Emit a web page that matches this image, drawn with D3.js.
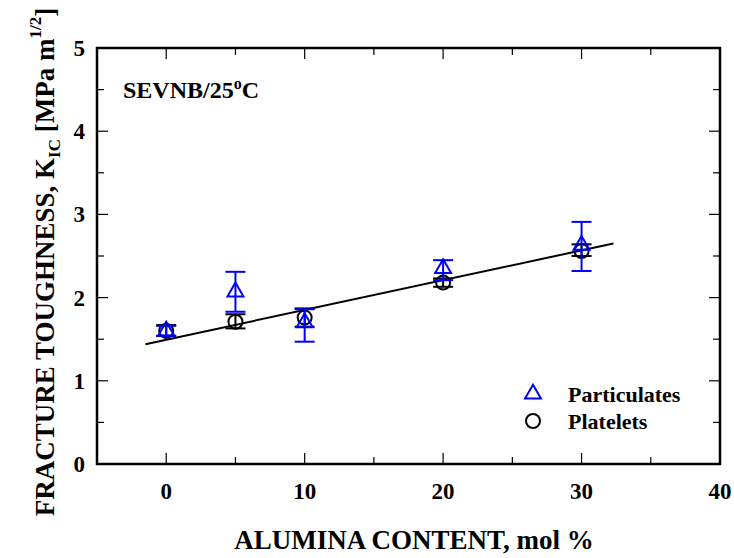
<!DOCTYPE html>
<html><head><meta charset="utf-8">
<script src="https://cdn.jsdelivr.net/npm/d3@7"></script>
<style>body{margin:0;background:#fff}svg{display:block}text{font-family:"Liberation Serif","Times New Roman",serif;font-weight:bold}</style>
</head><body><svg id="c" width="734" height="558"></svg>
<script>
const contents = [0, 5, 10, 20, 30];
const partVals = [1.60, 2.07, 1.70, 2.35, 2.63];
const partLo   = [1.54, 1.83, 1.47, 2.21, 2.32];
const partHi   = [1.66, 2.31, 1.86, 2.45, 2.91];
const platVals = [1.60, 1.71, 1.76, 2.18, 2.56];
const platLo   = [1.54, 1.63, 1.65, 2.13, 2.50];
const platHi   = [1.67, 1.80, 1.87, 2.23, 2.64];
const fitX = [-1.5, 32.3];
const fitY = [1.44, 2.65];
const xTicks = [0, 10, 20, 30, 40];
const yTicks = [0, 1, 2, 3, 4, 5];

const svg = d3.select("#c");
const L = 97, R = 720, T = 48, B = 464;
const x = d3.scaleLinear().domain([-5, 40]).range([L, R]);
const y = d3.scaleLinear().domain([0, 5]).range([B, T]);

// frame
svg.append("rect").attr("x", L).attr("y", T).attr("width", R - L).attr("height", B - T)
  .attr("fill", "none").attr("stroke", "#000").attr("stroke-width", 2.5);

// ticks (inward, all sides)
const g = svg.append("g").attr("stroke", "#000").attr("stroke-width", 1.2);
const xMaj = d3.range(0, 40, 10), xMin = d3.range(5, 40, 10);
const yMaj = d3.range(1, 5, 1), yMin = d3.range(0.5, 5, 1);
xMaj.forEach(v => { g.append("line").attr("x1", x(v)).attr("x2", x(v)).attr("y1", B).attr("y2", B - 11);
                    g.append("line").attr("x1", x(v)).attr("x2", x(v)).attr("y1", T).attr("y2", T + 11); });
xMin.forEach(v => { g.append("line").attr("x1", x(v)).attr("x2", x(v)).attr("y1", B).attr("y2", B - 7);
                    g.append("line").attr("x1", x(v)).attr("x2", x(v)).attr("y1", T).attr("y2", T + 7); });
yMaj.forEach(v => { g.append("line").attr("y1", y(v)).attr("y2", y(v)).attr("x1", L).attr("x2", L + 11);
                    g.append("line").attr("y1", y(v)).attr("y2", y(v)).attr("x1", R).attr("x2", R - 11); });
yMin.forEach(v => { g.append("line").attr("y1", y(v)).attr("y2", y(v)).attr("x1", L).attr("x2", L + 7);
                    g.append("line").attr("y1", y(v)).attr("y2", y(v)).attr("x1", R).attr("x2", R - 7); });

// tick labels
svg.append("g").selectAll("text").data(xTicks).join("text")
  .attr("x", d => x(d)).attr("y", 499).attr("text-anchor", "middle")
  .attr("font-size", 23).text(d => d);
svg.append("g").selectAll("text").data(yTicks).join("text")
  .attr("x", 85).attr("y", d => y(d) + 8).attr("text-anchor", "end")
  .attr("font-size", 23).text(d => d);

// axis titles
svg.append("text").attr("x", 414).attr("y", 549).attr("text-anchor", "middle")
  .attr("font-size", 27).text("ALUMINA CONTENT, mol %");
const yt = svg.append("text").attr("transform", "translate(54,262) rotate(-90)")
  .attr("text-anchor", "middle").attr("font-size", 27);
yt.append("tspan").text("FRACTURE TOUGHNESS, K");
yt.append("tspan").attr("font-size", 17).attr("dy", 6).text("IC");
yt.append("tspan").attr("dy", -6).text(" [MPa m");
yt.append("tspan").attr("font-size", 17).attr("dy", -13).text("1/2");
yt.append("tspan").attr("dy", 13).text("]");

// annotation
const an = svg.append("text").attr("x", 123).attr("y", 98).attr("font-size", 24);
an.append("tspan").text("SEVNB/25");
an.append("tspan").attr("font-size", 16).attr("dy", -9).text("o");
an.append("tspan").attr("dy", 9).text("C");

// fit line
const line = d3.line().x(d => x(d[0])).y(d => y(d[1]));
svg.append("path").attr("d", line(d3.zip(fitX, fitY))).attr("fill", "none")
  .attr("stroke", "#000").attr("stroke-width", 2);

function errBars(vals, lo, hi, color, cap) {
  const eg = svg.append("g").attr("stroke", color).attr("stroke-width", 2).attr("fill", "none");
  contents.forEach((c, i) => {
    eg.append("line").attr("x1", x(c)).attr("x2", x(c)).attr("y1", y(lo[i])).attr("y2", y(hi[i]));
    [lo[i], hi[i]].forEach(v => eg.append("line").attr("x1", x(c) - cap).attr("x2", x(c) + cap)
      .attr("y1", y(v)).attr("y2", y(v)));
  });
}
const tri = d3.symbol().type(d3.symbolTriangle).size(110);
// platelets
errBars(platVals, platLo, platHi, "#000", 10);
svg.append("g").selectAll("circle").data(contents).join("circle")
  .attr("cx", d => x(d)).attr("cy", (d, i) => y(platVals[i])).attr("r", 7)
  .attr("fill", "none").attr("stroke", "#000").attr("stroke-width", 2);
// particulates
errBars(partVals, partLo, partHi, "#0000ff", 10);
svg.append("g").selectAll("path").data(contents).join("path")
  .attr("d", tri).attr("transform", (d, i) => `translate(${x(d)},${y(partVals[i])})`)
  .attr("fill", "none").attr("stroke", "#0000ff").attr("stroke-width", 2);

// legend
const legItems = [["Particulates", "tri", "#0000ff"], ["Platelets", "circ", "#000"]];
legItems.forEach((it, i) => {
  const ly = 394 + i * 27;
  if (it[1] === "tri") svg.append("path").attr("d", tri).attr("transform", `translate(533,${ly})`)
    .attr("fill", "none").attr("stroke", it[2]).attr("stroke-width", 2);
  else svg.append("circle").attr("cx", 533).attr("cy", ly).attr("r", 7)
    .attr("fill", "none").attr("stroke", it[2]).attr("stroke-width", 2);
  svg.append("text").attr("x", 568).attr("y", ly + 8).attr("font-size", 22).text(it[0]);
});
</script></body></html>
